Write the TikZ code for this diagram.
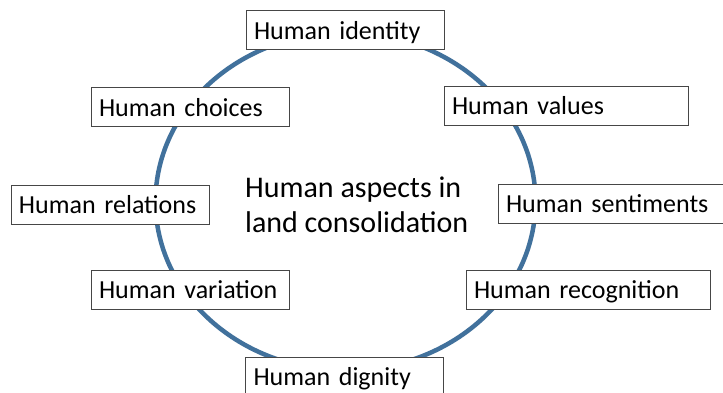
\documentclass[tikz,border=0pt]{standalone}
\usepackage{fontspec}
\setmainfont{Carlito}
\definecolor{ringblue}{RGB}{65,113,156}
\definecolor{boxline}{RGB}{70,70,70}
\begin{document}
\begin{tikzpicture}[x=1pt,y=-1pt,
  aspect/.style={draw=boxline, line width=0.9pt, fill=white, rectangle,
    inner xsep=8pt, inner ysep=0pt, minimum height=39pt, align=left,
    text height=24pt, text depth=5.4pt,
    font=\fontsize{26}{30}\selectfont, text=black},
  narrowbox/.style={aspect, text width=182pt},
  widebox/.style={aspect, text width=228pt},
  ring/.style={draw=ringblue, line width=4.5pt},
  title/.style={align=left, inner sep=0pt, font=\fontsize{30}{35}\selectfont, text=black}]
\useasboundingbox (0,0) rectangle (723,392);
\fill[white] (0,0) rectangle (723,392);
\draw[ring] (345.5,201.5) ellipse [x radius=190, y radius=169];
\node[title, anchor=base west] (center) at (245,232) {Human aspects in\\land consolidation};
\node[narrowbox] (identity) at (345,30) {Human identity};
\node[widebox] (values) at (566,105.5) {Human values};
\node[narrowbox] (choices) at (190,107) {Human choices};
\node[narrowbox] (relations) at (110,204.5) {Human relations};
\node[widebox] (sentiments) at (620,203.5) {Human sentiments};
\node[narrowbox] (variation) at (190,289.5) {Human variation};
\node[widebox] (recognition) at (588,289.5) {Human recognition};
\node[narrowbox] (dignity) at (344.5,376.5) {Human dignity};
\end{tikzpicture}
\end{document}
